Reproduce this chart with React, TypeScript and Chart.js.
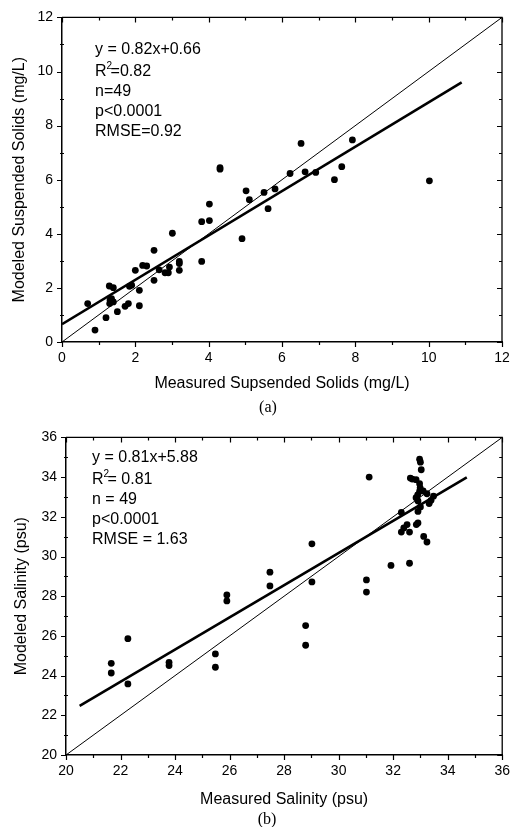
import React, { useEffect, useRef } from "react";
import { Chart, registerables } from "chart.js";
Chart.register(...registerables);

// ---------- Data: (a) suspended solids ----------
const ssMeasured = [0.7, 0.9, 1.2, 1.29, 1.4, 1.31, 1.4, 1.3, 1.51, 1.72, 1.81, 1.84, 1.9, 2.0, 2.11, 2.11, 2.2, 2.31, 2.51, 2.51, 2.65, 2.81, 2.9, 2.93, 3.01, 3.2, 3.2, 3.2, 3.81, 3.81, 4.02, 4.02, 4.31, 4.31, 4.91, 5.02, 5.11, 5.51, 5.62, 5.81, 6.22, 6.52, 6.63, 6.92, 7.43, 7.63, 7.92, 10.02, 1.35];
const ssModeled = [1.42, 0.44, 0.9, 2.07, 2.01, 1.55, 1.48, 1.42, 1.12, 1.32, 1.42, 2.06, 2.1, 2.65, 1.91, 1.34, 2.83, 2.81, 3.39, 2.28, 2.67, 2.56, 2.56, 2.77, 4.02, 2.98, 2.9, 2.65, 2.98, 4.45, 4.49, 5.1, 6.39, 6.45, 3.82, 5.59, 5.26, 5.53, 4.93, 5.66, 6.23, 7.34, 6.29, 6.27, 6.0, 6.48, 7.47, 5.96, 1.6];
const ssFitX = [0, 10.9];
const ssFitY = [0.66, 9.6];
const ssOneToOneX = [0, 12];
const ssOneToOneY = [0, 12];
const ssStats = ["y = 0.82x+0.66", "R^2=0.82", "n=49", "p<0.0001", "RMSE=0.92"];
const ssXTitle = "Measured Supsended Solids (mg/L)";
const ssYTitle = "Modeled Suspended Solids (mg/L)";

// ---------- Data: (b) salinity ----------
const salMeasured = [21.66, 21.66, 22.27, 22.27, 23.78, 23.78, 25.48, 25.48, 25.9, 25.9, 27.48, 27.48, 28.79, 28.79, 29.02, 29.02, 31.02, 31.02, 31.12, 31.92, 32.6, 32.97, 33.0, 33.03, 32.63, 32.84, 32.97, 32.99, 32.97, 33.24, 32.84, 32.91, 33.48, 33.39, 33.32, 32.91, 32.3, 32.51, 32.39, 32.3, 32.6, 32.91, 32.85, 33.12, 33.24, 32.9, 33.0, 33.1, 32.7];
const salModeled = [24.62, 24.13, 25.86, 23.58, 24.67, 24.51, 25.09, 24.42, 28.06, 27.76, 29.21, 28.52, 26.52, 25.53, 28.72, 30.64, 28.82, 28.21, 34.0, 29.55, 29.66, 34.9, 34.75, 34.37, 33.95, 33.87, 33.67, 33.46, 33.29, 33.16, 32.96, 32.8, 33.04, 32.83, 32.67, 32.27, 32.22, 31.61, 31.44, 31.23, 31.23, 31.69, 31.61, 31.01, 30.73, 33.1, 32.5, 33.3, 33.9];
const salFitX = [20.5, 34.7];
const salFitY = [22.47, 33.99];
const salOneToOneX = [20, 36];
const salOneToOneY = [20, 36];
const salStats = ["y = 0.81x+5.88", "R^2= 0.81", "n = 49", "p<0.0001", "RMSE = 1.63"];
const salXTitle = "Measured Salinity (psu)";
const salYTitle = "Modeled Salinity (psu)";

const SANS = '"Liberation Sans", Arial, Helvetica, sans-serif';
const SERIF = '"Liberation Serif", "Times New Roman", serif';

type Panel = {
  mx: number[]; my: number[];
  fx: number[]; fy: number[];
  ox: number[]; oy: number[];
  stats: string[];
  xTitle: string; yTitle: string;
  xMin: number; xMax: number; yMin: number; yMax: number;
  width: number; height: number;
  yAxisW: number; xAxisH: number;
  pad: { top: number; right: number; bottom: number };
  yTitlePad: number;
  statsX: number; statsY: number[];
  caption: string; captionX: number; captionY: number;
};

function decorPlugin(p: Panel) {
  return {
    id: "decor",
    afterDraw(chart: any) {
      const ctx = chart.ctx as CanvasRenderingContext2D;
      const xs = chart.scales.x;
      const ys = chart.scales.y;
      const { left, right, top, bottom } = chart.chartArea;
      ctx.save();
      ctx.strokeStyle = "#000";
      ctx.lineWidth = 1.3;
      ctx.beginPath();
      ctx.moveTo(left, top);
      ctx.lineTo(right, top);
      ctx.lineTo(right, bottom);
      ctx.stroke();
      ctx.lineWidth = 1.2;
      ctx.beginPath();
      for (let v = p.xMin; v <= p.xMax + 1e-9; v += 1) {
        const px = Math.round(xs.getPixelForValue(v)) + 0.5;
        const major = Math.round(v - p.xMin) % 2 === 0;
        ctx.moveTo(px, bottom);
        ctx.lineTo(px, bottom + (major ? 5 : 3));
        ctx.moveTo(px, top);
        ctx.lineTo(px, top + (major ? 5 : 3));
      }
      for (let v = p.yMin; v <= p.yMax + 1e-9; v += 1) {
        const py = Math.round(ys.getPixelForValue(v)) + 0.5;
        const major = Math.round(v - p.yMin) % 2 === 0;
        if (major) {
          ctx.moveTo(left - 5, py);
          ctx.lineTo(left, py);
        } else {
          ctx.moveTo(left - 2, py);
          ctx.lineTo(left + 2, py);
        }
        ctx.moveTo(right, py);
        ctx.lineTo(right - (major ? 5 : 3), py);
      }
      ctx.stroke();

      // statistics block
      ctx.fillStyle = "#000";
      ctx.textAlign = "left";
      ctx.textBaseline = "alphabetic";
      const font = `16px ${SANS}`;
      p.stats.forEach((line, i) => {
        const y = p.statsY[i];
        ctx.font = font;
        if (line.includes("^2")) {
          const [a, b] = line.split("^2");
          ctx.fillText(a, p.statsX, y);
          const w = ctx.measureText(a).width;
          ctx.font = `10px ${SANS}`;
          ctx.fillText("2", p.statsX + w, y - 7);
          ctx.font = font;
          ctx.fillText(b, p.statsX + w + 4, y);
        } else {
          ctx.fillText(line, p.statsX, y);
        }
      });

      // caption
      ctx.font = `16px ${SERIF}`;
      ctx.textAlign = "center";
      ctx.textBaseline = "middle";
      ctx.fillText(p.caption, p.captionX, p.captionY);
      ctx.restore();
    },
  };
}

function makeConfig(p: Panel): any {
  const pts = p.mx.map((x, i) => ({ x, y: p.my[i] }));
  const fit = p.fx.map((x, i) => ({ x, y: p.fy[i] }));
  const one = p.ox.map((x, i) => ({ x, y: p.oy[i] }));
  const tickFont = { family: SANS, size: 14 };
  const titleFont = { family: SANS, size: 16 };
  return {
    type: "scatter",
    data: {
      datasets: [
        { data: one, showLine: true, borderColor: "#000", borderWidth: 1, pointRadius: 0, fill: false },
        { data: fit, showLine: true, borderColor: "#000", borderWidth: 2.6, pointRadius: 0, fill: false },
        { data: pts, showLine: false, pointRadius: 3.4, pointBackgroundColor: "#000", pointBorderWidth: 0, pointBorderColor: "#000" },
      ],
    },
    options: {
      responsive: false,
      animation: false,
      events: [],
      layout: { padding: { left: 0, top: p.pad.top, right: p.pad.right, bottom: p.pad.bottom } },
      plugins: { legend: { display: false }, tooltip: { enabled: false }, title: { display: false } },
      scales: {
        x: {
          type: "linear",
          min: p.xMin,
          max: p.xMax,
          grid: { display: false, drawTicks: false },
          border: { display: true, color: "#000", width: 1.5 },
          ticks: { stepSize: 2, color: "#000", font: tickFont, padding: 8, maxRotation: 0 },
          title: { display: true, text: p.xTitle, color: "#000", font: titleFont, padding: { top: 0, bottom: 0 } },
          afterFit(s: any) { s.height = p.xAxisH; },
        },
        y: {
          type: "linear",
          min: p.yMin,
          max: p.yMax,
          grid: { display: false, drawTicks: false },
          border: { display: true, color: "#000", width: 1.5 },
          ticks: { stepSize: 2, color: "#000", font: tickFont, padding: 9 },
          title: { display: true, text: p.yTitle, color: "#000", font: titleFont, padding: { top: p.yTitlePad, bottom: 0 } },
          afterFit(s: any) { s.width = p.yAxisW; },
        },
      },
    },
    plugins: [decorPlugin(p)],
  };
}

const panelA: Panel = {
  mx: ssMeasured, my: ssModeled, fx: ssFitX, fy: ssFitY, ox: ssOneToOneX, oy: ssOneToOneY,
  stats: ssStats, xTitle: ssXTitle, yTitle: ssYTitle,
  xMin: 0, xMax: 12, yMin: 0, yMax: 12,
  width: 518, height: 420, yAxisW: 62, xAxisH: 51,
  pad: { top: 16, right: 16, bottom: 27 }, yTitlePad: 10,
  statsX: 95, statsY: [54, 75.5, 96, 116, 136],
  caption: "(a)", captionX: 268, captionY: 408,
};

const panelB: Panel = {
  mx: salMeasured, my: salModeled, fx: salFitX, fy: salFitY, ox: salOneToOneX, oy: salOneToOneY,
  stats: salStats, xTitle: salXTitle, yTitle: salYTitle,
  xMin: 20, xMax: 36, yMin: 20, yMax: 36,
  width: 518, height: 407, yAxisW: 66, xAxisH: 54,
  pad: { top: 12, right: 12, bottom: 18 }, yTitlePad: 12,
  statsX: 92, statsY: [42, 64, 83.5, 103.5, 124],
  caption: "(b)", captionX: 267, captionY: 400,
};

function PanelChart({ p, top }: { p: Panel; top: number }) {
  const ref = useRef<HTMLCanvasElement | null>(null);
  useEffect(() => {
    if (!ref.current) return;
    const chart = new Chart(ref.current, makeConfig(p));
    return () => chart.destroy();
  }, [p]);
  return (
    <div style={{ position: "absolute", left: 0, top, width: p.width, height: p.height }}>
      <canvas ref={ref} width={p.width} height={p.height} style={{ display: "block", width: p.width, height: p.height }} />
    </div>
  );
}

export default function App() {
  return (
    <div style={{ position: "absolute", left: 0, top: 0, width: 518, height: 827, background: "#fff" }}>
      <PanelChart p={panelA} top={0} />
      <PanelChart p={panelB} top={420} />
    </div>
  );
}
